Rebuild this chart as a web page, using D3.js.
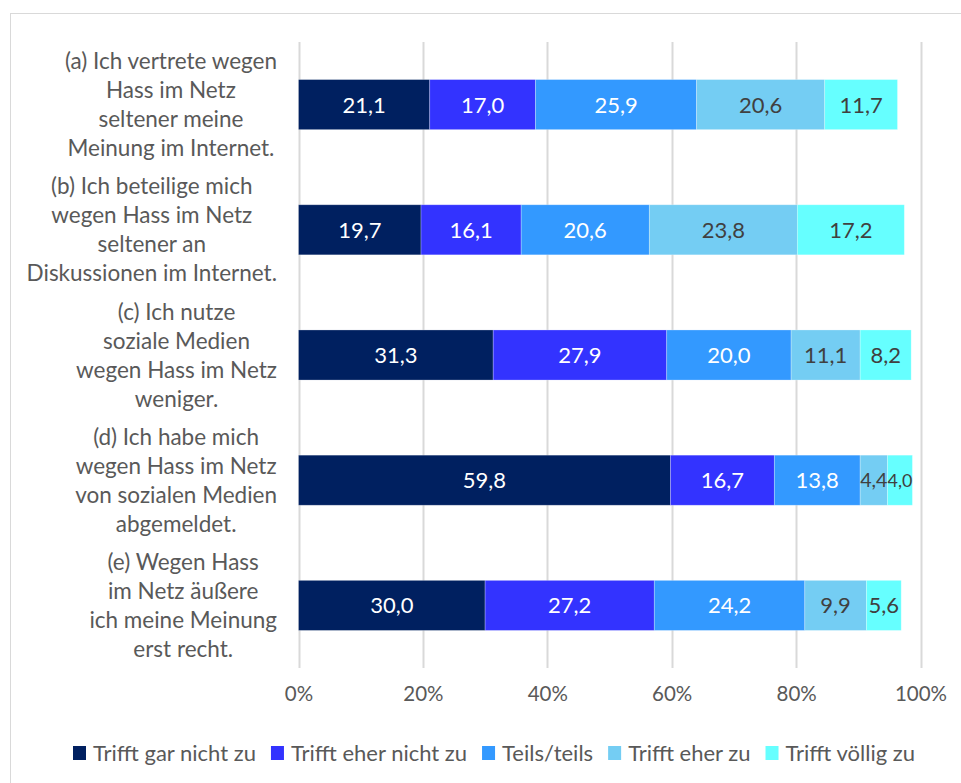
<!DOCTYPE html>
<html>
<head>
<meta charset="utf-8">
<script src="https://cdn.jsdelivr.net/npm/d3@7"></script>
<style>
  body { margin: 0; background: #fff; }
  text { font-family: Lato, "Open Sans", sans-serif; }
</style>
</head>
<body>
<div id="chart"></div>
<script>
var svgWidth = 961;
var svgHeight = 783;

// categories (one label per bar, split in lines)
var categories = [
  ["(a) Ich vertrete wegen", "Hass im Netz", "seltener meine", "Meinung im Internet."],
  ["(b) Ich beteilige mich", "wegen Hass im Netz", "seltener an", "Diskussionen im Internet."],
  ["(c) Ich nutze", "soziale Medien", "wegen Hass im Netz", "weniger."],
  ["(d) Ich habe mich", "wegen Hass im Netz", "von sozialen Medien", "abgemeldet."],
  ["(e) Wegen Hass", "im Netz äußere", "ich meine Meinung", "erst recht."]
];

var seriesNames = ["Trifft gar nicht zu", "Trifft eher nicht zu", "Teils/teils", "Trifft eher zu", "Trifft völlig zu"];

// values per series, in category order
var garNicht = [21.1, 19.7, 31.3, 59.8, 30.0];
var eherNicht = [17.0, 16.1, 27.9, 16.7, 27.2];
var teils = [25.9, 20.6, 20.0, 13.8, 24.2];
var eherZu = [20.6, 23.8, 11.1, 4.4, 9.9];
var voellig = [11.7, 17.2, 8.2, 4.0, 5.6];

var tickValues = [0, 20, 40, 60, 80, 100];

var colors = ["#002060", "#3333FF", "#3399FF", "#74CDF3", "#66FFFF"];
var labelColors = ["#ffffff", "#ffffff", "#ffffff", "#404040", "#404040"];

var seriesValues = [garNicht, eherNicht, teils, eherZu, voellig];

var margin = { top: 42, right: 40, bottom: 115, left: 298.5 };
var plotRight = 920.5;

var svg = d3.select("#chart")
  .append("svg")
  .attr("width", svgWidth)
  .attr("height", svgHeight);

// chart frame
svg.append("rect")
  .attr("x", 10.5)
  .attr("y", 13.5)
  .attr("width", 1000)
  .attr("height", 800)
  .attr("fill", "none")
  .attr("stroke", "#d9d9d9");

var xScale = d3.scaleLinear()
  .domain([0, 100])
  .range([margin.left, plotRight]);

var yScale = d3.scaleBand()
  .domain(d3.range(categories.length))
  .range([42, 668])
  .paddingInner(0.6)
  .paddingOuter(0.3);

// gridlines
svg.append("g")
  .selectAll("line")
  .data(tickValues)
  .enter()
  .append("line")
  .attr("x1", d => Math.round(xScale(d)) + 0.5)
  .attr("x2", d => Math.round(xScale(d)) + 0.5)
  .attr("y1", 42)
  .attr("y2", 668)
  .attr("stroke", "#d9d9d9")
  .attr("stroke-width", 2);

// x axis tick labels
var bottomAxis = d3.axisBottom(xScale)
  .tickValues(tickValues)
  .tickFormat(d => d + "%")
  .tickSize(0)
  .tickPadding(0);

var xAxis = svg.append("g")
  .attr("transform", "translate(0, 686)")
  .call(bottomAxis);
xAxis.select(".domain").remove();
xAxis.selectAll("text")
  .attr("fill", "#595959")
  .style("font-size", "20.5px")
  .style("font-family", "Lato, sans-serif");

// stacked data
var stackData = categories.map(function(c, i) {
  var row = { idx: i };
  seriesNames.forEach(function(s, j) { row[s] = seriesValues[j][i]; });
  return row;
});
var stacked = d3.stack().keys(seriesNames)(stackData);

var barsGroup = svg.append("g");
stacked.forEach(function(layer, j) {
  var g = barsGroup.append("g");
  g.selectAll("rect")
    .data(layer)
    .enter()
    .append("rect")
    .attr("x", d => xScale(d[0]))
    .attr("y", d => yScale(d.data.idx))
    .attr("width", d => xScale(d[1]) - xScale(d[0]))
    .attr("height", yScale.bandwidth())
    .attr("fill", colors[j])
    .attr("stroke", "#ffffff")
    .attr("stroke-opacity", 0.35)
    .attr("stroke-width", 0.75);

  g.selectAll("text")
    .data(layer)
    .enter()
    .append("text")
    .attr("x", d => (xScale(d[0]) + xScale(d[1])) / 2)
    .attr("y", d => yScale(d.data.idx) + yScale.bandwidth() / 2)
    .attr("dy", "0.36em")
    .attr("text-anchor", "middle")
    .attr("fill", labelColors[j])
    .style("font-size", "22px")
    .text(d => (d[1] - d[0]).toFixed(1).replace(".", ","))
    .each(function(d) {
      // shrink labels that are wider than their segment
      var w = xScale(d[1]) - xScale(d[0]);
      var tw = this.getComputedTextLength();
      if (tw > w) d3.select(this).style("font-size", (22 * w / tw) + "px");
    });
});

// category labels: block right-aligned, lines centred within block
var labelRight = 277;
var lineHeight = 29;
categories.forEach(function(lines, i) {
  var g = svg.append("g");
  var texts = g.selectAll("text")
    .data(lines)
    .enter()
    .append("text")
    .attr("fill", "#595959")
    .attr("text-anchor", "middle")
    .style("font-size", "22.5px")
    .text(d => d);
  var maxW = 0;
  texts.each(function() { maxW = Math.max(maxW, this.getComputedTextLength()); });
  var cx = labelRight - maxW / 2;
  var cy = yScale(i) + yScale.bandwidth() / 2;
  texts
    .attr("x", cx)
    .attr("y", (d, k) => cy + (k - (lines.length - 1) / 2) * lineHeight)
    .attr("dy", "0.36em");
});

// legend
var legend = svg.append("g").attr("transform", "translate(0, 753)");
var lx = 73;
seriesNames.forEach(function(name, j) {
  legend.append("rect")
    .attr("x", lx)
    .attr("y", -7)
    .attr("width", 13)
    .attr("height", 14)
    .attr("fill", colors[j]);
  var t = legend.append("text")
    .attr("x", lx + 20)
    .attr("y", 0)
    .attr("dy", "0.36em")
    .attr("fill", "#595959")
    .style("font-size", "22px")
    .text(name);
  lx += 20 + t.node().getComputedTextLength() + 15;
});
</script>
</body>
</html>
